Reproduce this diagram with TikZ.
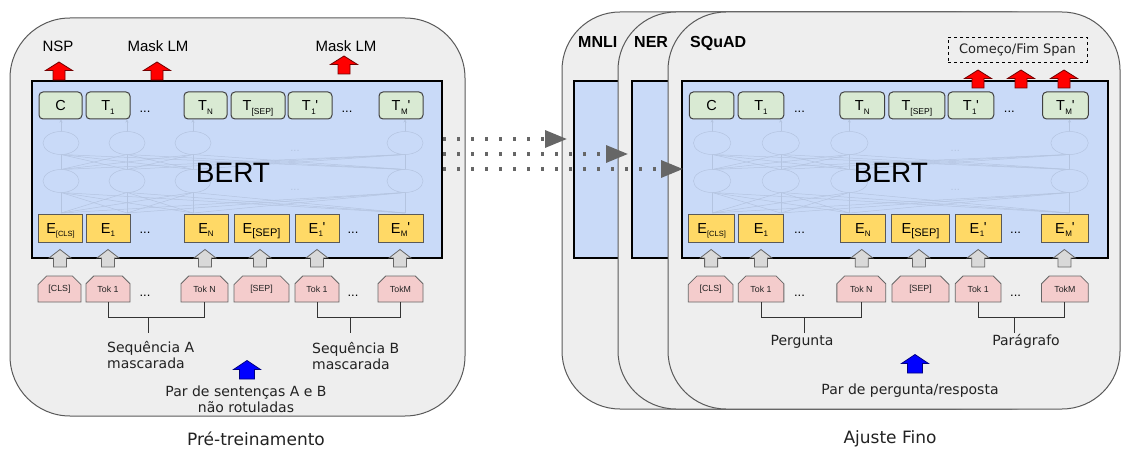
\documentclass[tikz,border=0pt]{standalone}
\usepackage{fontspec}
\setmainfont{Liberation Sans}
\newfontfamily\dvs{DejaVu Sans}
\usetikzlibrary{arrows.meta,shapes.misc,calc}

\definecolor{panelbg}{HTML}{EEEEEE}
\definecolor{panelln}{HTML}{595959}
\definecolor{bertbg}{HTML}{C9DAF8}
\definecolor{tgreen}{HTML}{D9EAD3}
\definecolor{eyellow}{HTML}{FFD966}
\definecolor{tokpink}{HTML}{F4CCCC}
\definecolor{greyarr}{HTML}{D9D9D9}
\definecolor{faintc}{HTML}{B4C4E0}
\definecolor{dotc}{HTML}{666666}
\definecolor{txtc}{HTML}{222222}

\newcommand\SB[2]{#1\raisebox{-3.5pt}{\fontsize{8}{8}\selectfont #2}}
\newcommand\SBP[3][4.5pt]{#2\rlap{\raisebox{-3.5pt}{\fontsize{8}{8}\selectfont\hspace{0.5pt}#3}}\hspace{#1}\raisebox{0.5pt}{\textquotesingle}}

\tikzset{
  panel/.style={draw=panelln, line width=1pt, fill=panelbg, rounded corners=60pt},
  bertbox/.style={draw=black, line width=2pt, fill=bertbg, inner sep=0pt},
  tbox/.style={draw=black!75, line width=1pt, fill=tgreen, rounded corners=4pt,
    minimum height=27pt, inner sep=0pt, text height=10.4pt, text depth=0pt,
    font=\fontsize{14.5}{14.5}\selectfont},
  ebox/.style={draw=black!65, line width=0.9pt, fill=eyellow, minimum height=28pt,
    inner sep=0pt, text height=10.4pt, text depth=0pt, font=\fontsize{14.5}{14.5}\selectfont},
  tokbox/.style={chamfered rectangle, chamfered rectangle corners={north west,north east},
    chamfered rectangle xsep=4.5pt, chamfered rectangle ysep=4.5pt, draw=black!60,
    line width=0.8pt, fill=tokpink, minimum height=26pt, inner sep=0pt,
    text=txtc, font=\fontsize{8.8}{8.8}\selectfont},
  dotsn/.style={anchor=base, inner sep=0pt, font=\fontsize{13}{13}\selectfont},
  faint/.style={draw=faintc, line width=0.5pt},
  faintdots/.style={anchor=base, inner sep=0pt, text=faintc, font=\fontsize{11}{11}\selectfont},
  toplbl/.style={anchor=base, inner sep=0pt, font=\fontsize{15}{15}\selectfont},
  tasklbl/.style={anchor=base west, inner sep=0pt, font=\bfseries\fontsize{16}{16}\selectfont},
  ptlbl/.style={inner sep=0pt, text=txtc, font=\dvs\fontsize{14}{14}\selectfont},
  caplbl/.style={anchor=base, inner sep=0pt, text=txtc, font=\dvs\fontsize{17}{17}\selectfont},
  brk/.style={draw=black!80, line width=1pt},
  dotarr/.style={draw=dotc, line width=3.3pt, dash pattern=on 3.3pt off 10.7pt,
    -{Triangle[length=22pt,width=17pt]}},
  redup/.pic={\path[draw=red!45!black, line width=0.8pt, fill=red]
    (-6,0) -- (-6,-9.5) -- (-13.5,-9.5) -- (0,-18) -- (13.5,-9.5) -- (6,-9.5) -- (6,0) -- cycle;},
  greyup/.pic={\path[draw=black!60, line width=0.8pt, fill=greyarr]
    (-6.5,0) -- (-6.5,-9) -- (-11,-9) -- (0,-17.5) -- (11,-9) -- (6.5,-9) -- (6.5,0) -- cycle;},
  blueup/.pic={\path[draw=blue!50!black, line width=0.8pt, fill=blue]
    (-7.5,0) -- (-7.5,-9.5) -- (-13.5,-9.5) -- (0,-18.5) -- (13.5,-9.5) -- (7.5,-9.5) -- (7.5,0) -- cycle;},
}

\newcommand\BertBlock[3]{%
\begin{scope}[shift={(#2,0)}, xscale=#3]
  \node[bertbox, anchor=north west, minimum width={#3*410}, minimum height=177] (#1bert) at (0,80) {};
  \foreach \a in {30,96,162,374}{
    \foreach \b in {30,96,162,374}{
      \draw[faint] (\a,169.5) -- (\b,154.5);
      \draw[faint] (\a,213) -- (\b,192.5);
    }
  }
  \foreach \a in {30,96,162,374}{
    \draw[faint, fill=bertbg] (\a,143) ellipse [x radius=18, y radius=11.5];
    \draw[faint, fill=bertbg] (\a,181) ellipse [x radius=18, y radius=11.5];
    \draw[faint, -{Stealth[length=3pt,width=3pt]}] (\a,131.5) -- (\a,119.5);
  }
  \node[faintdots] (#1fd1) at (264,152) {...};
  \node[faintdots] (#1fd2) at (264,191) {...};
  \node[anchor=base, inner sep=0pt, font=\fontsize{28}{28}\selectfont] (#1label) at (202,183) {BERT};
  % output row
  \node[tbox, minimum width={#3*43}] (#1T0) at (29.5,105.5) {C};
  \node[tbox, minimum width={#3*44}] (#1T1) at (77,105.5) {\SB{T}{1}};
  \node[dotsn] (#1Td1) at (114,113) {...};
  \node[tbox, minimum width={#3*43}] (#1TN) at (174.5,105.5) {\SB{T}{N}};
  \node[tbox, minimum width={#3*54}] (#1TS) at (227,105.5) {\SB{T}{\fontsize{8.5}{8.5}\selectfont[SEP]}};
  \node[tbox, minimum width={#3*44}] (#1T1p) at (279,105.5) {\SBP{T}{1}};
  \node[dotsn] (#1Td2) at (316,113) {...};
  \node[tbox, minimum width={#3*44}] (#1TM) at (370,105.5) {\SBP[7pt]{T}{M}};
  % embedding row
  \node[ebox, minimum width={#3*44}] (#1E0) at (29.5,228) {\SB{E}{\fontsize{7.5}{7.5}\selectfont[CLS]}};
  \node[ebox, minimum width={#3*44}] (#1E1) at (77,228) {\SB{E}{1}};
  \node[dotsn] (#1Ed1) at (114,234) {...};
  \node[ebox, minimum width={#3*44}] (#1EN) at (175,228) {\SB{E}{N}};
  \node[ebox, minimum width={#3*55}] (#1ES) at (230.5,228) {\SB{E}{\fontsize{11}{11}\selectfont[SEP]}};
  \node[ebox, minimum width={#3*44}] (#1E1p) at (286,228) {\SBP{E}{1}};
  \node[dotsn] (#1Ed2) at (322,234) {...};
  \node[ebox, minimum width={#3*45}] (#1EM) at (369.5,228) {\SBP[7pt]{E}{M}};
  % input arrows
  \foreach \a in {29,77,174,229,286,369}{ \pic at (\a,267) {greyup}; }
  % token row
  \node[tokbox, minimum width={#3*43}] (#1K0) at (28.5,289) {[CLS]};
  \node[tokbox, minimum width={#3*44}] (#1K1) at (77,289) {Tok 1};
  \node[dotsn] (#1Kd1) at (114,296) {...};
  \node[tokbox, minimum width={#3*47}] (#1KN) at (173.5,289) {Tok N};
  \node[tokbox, minimum width={#3*55}] (#1KS) at (230.5,289) {[SEP]};
  \node[tokbox, minimum width={#3*44}] (#1K1p) at (286,289) {Tok 1};
  \node[dotsn] (#1Kd2) at (322,296) {...};
  \node[tokbox, minimum width={#3*45}] (#1KM) at (369.5,289) {TokM};
\end{scope}}

\begin{document}
\begin{tikzpicture}[x=1pt, y=-1pt]
\useasboundingbox (0,0) rectangle (1122,449);

% ---------------- Pre-training ----------------
\draw[panel] (10,18) rectangle (465,416);
\BertBlock{L}{31}{1}
\node[toplbl] (nsp) at (58,52) {NSP};
\node[toplbl] (mlm1) at (158,52) {Mask LM};
\node[toplbl] (mlm2) at (346,52) {Mask LM};
\pic at (59,80) {redup};
\pic at (157,80) {redup};
\pic at (344,74) {redup};

\draw[brk] (LK1.south) -- (LK1.south |- 0,317) -| (LKN.south);
\coordinate (LbA) at (148,317);
\draw[brk] (LbA) -- ++(0,16);
\draw[brk] (LK1p.south) -- (LK1p.south |- 0,317) -| (LKM.south);
\coordinate (LbB) at (350,317);
\draw[brk] (LbB) -- ++(0,16);

\node[ptlbl, anchor=base west] (seqA1) at (107,352) {Sequência A};
\node[ptlbl, anchor=base west] (seqA2) at (107,368) {mascarada};
\node[ptlbl, anchor=base west] (seqB1) at (312,353) {Sequência B};
\node[ptlbl, anchor=base west] (seqB2) at (312,369) {mascarada};
\pic at (247,379) {blueup};
\node[ptlbl, anchor=base] (par1) at (246,396) {Par de sentenças A e B};
\node[ptlbl, anchor=base] (par2) at (246,412) {não rotuladas};
\node[caplbl] (cap1) at (256,445) {Pré-treinamento};

% ---------------- Fine-tuning ----------------
\draw[panel, rounded corners=58pt] (562,12) rectangle (1014,409);
\node[bertbox, anchor=north west, minimum width=426, minimum height=177] (mnlibox) at (573,80) {};
\node[tasklbl] (mnli) at (578,48) {MNLI};

\draw[panel, rounded corners=58pt] (618,12) rectangle (1070,409);
\node[bertbox, anchor=north west, minimum width=426, minimum height=177] (nerbox) at (631,80) {};
\node[tasklbl] (ner) at (634,48) {NER};

\draw[panel, rounded corners=58pt] (668,12) rectangle (1120,409);
\node[tasklbl] (squad) at (690,48) {SQuAD};
\BertBlock{R}{681}{1.039}

\node[draw=black, dashed, line width=0.8pt, minimum width=139, minimum height=25, inner sep=0pt,
  text=txtc, font=\dvs\fontsize{13}{13}\selectfont] (span) at (1017.5,49.5) {Começo/Fim Span};
\pic at (978,88) {redup};
\pic at (1021,88) {redup};
\pic at (1064,88) {redup};

\draw[brk] (RK1.south) -- (RK1.south |- 0,317) -| (RKN.south);
\coordinate (RbA) at (804,317);
\draw[brk] (RbA) -- ++(0,16);
\draw[brk] (RK1p.south) -- (RK1p.south |- 0,317) -| (RKM.south);
\coordinate (RbB) at (1014,317);
\draw[brk] (RbB) -- ++(0,16);

\node[ptlbl, anchor=base] (perg) at (802,345) {Pergunta};
\node[ptlbl, anchor=base] (parag) at (1026,345) {Parágrafo};
\pic at (915,373) {blueup};
\node[ptlbl, anchor=base] (par3) at (910,394) {Par de pergunta/resposta};
\node[caplbl] (cap2) at (890,443) {Ajuste Fino};

% ---------------- transfer arrows ----------------
\draw[dotarr, shorten >=6pt] (Lbert.east |- 0,139) -- (mnlibox.west |- 0,139);
\draw[dotarr, shorten >=3pt] (Lbert.east |- 0,154) -- (nerbox.west |- 0,154);
\draw[dotarr, shorten >=-2pt] (Lbert.east |- 0,169) -- (Rbert.west |- 0,169);
\end{tikzpicture}
\end{document}
